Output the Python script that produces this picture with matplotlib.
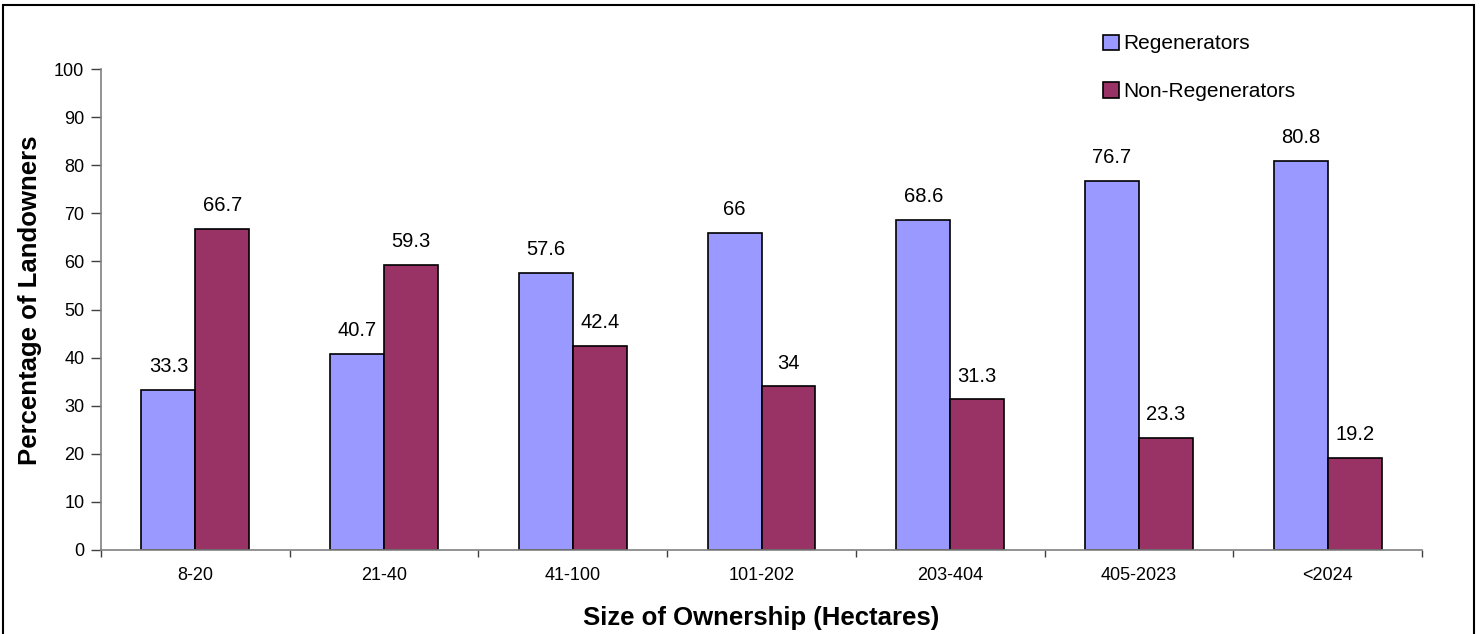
import matplotlib
matplotlib.use("Agg")
import matplotlib.pyplot as plt
import numpy as np
from matplotlib.patches import Rectangle

# Ownership size classes (hectares) and share of landowners (%)
categories = ["8-20", "21-40", "41-100", "101-202", "203-404", "405-2023", "<2024"]
regenerators = [33.3, 40.7, 57.6, 66, 68.6, 76.7, 80.8]
non_regenerators = [66.7, 59.3, 42.4, 34, 31.3, 23.3, 19.2]
series_names = ["Regenerators", "Non-Regenerators"]
y_ticks = [0, 10, 20, 30, 40, 50, 60, 70, 80, 90, 100]

plt.rcParams["font.family"] = ["Liberation Sans", "DejaVu Sans"]

fig = plt.figure(figsize=(14.81, 6.34), dpi=100)
ax = fig.add_axes([101 / 1481, 1 - 550 / 634, (1422 - 101) / 1481, (550 - 69) / 634])

# Outer chart border
fig.patches.append(Rectangle((3 / 1481, -0.05), (1474 - 3) / 1481, 1.05 - 5 / 634,
                             transform=fig.transFigure, fill=False,
                             edgecolor="black", linewidth=1.5, zorder=10))

n = len(categories)
x = np.arange(n)
width = 1 / 3.5
c_reg = "#9999FF"
c_non = "#993366"

b1 = ax.bar(x - width / 2, regenerators, width, color=c_reg, edgecolor="black",
            linewidth=1.2, label=series_names[0])
b2 = ax.bar(x + width / 2, non_regenerators, width, color=c_non, edgecolor="black",
            linewidth=1.2, label=series_names[1])

for bars, vals in ((b1, regenerators), (b2, non_regenerators)):
    for rect, v in zip(bars, vals):
        ax.annotate(f"{v:g}", (rect.get_x() + rect.get_width() / 2, v),
                    xytext=(0, 10), textcoords="offset points",
                    ha="center", va="bottom", fontsize=14.5)

ax.set_xlim(-0.5, n - 0.5)
ax.set_ylim(0, 100)
ax.set_yticks(y_ticks)
ax.tick_params(axis="y", direction="out", length=7, width=1, color="#404040",
               labelsize=13, pad=5)

# Major x ticks mark group boundaries; minor ticks carry the labels
ax.set_xticks(np.arange(-0.5, n, 1.0))
ax.set_xticklabels([])
ax.tick_params(axis="x", which="major", direction="out", length=5, width=1, color="#404040")
ax.set_xticks(x, minor=True)
ax.set_xticklabels(categories, minor=True)
ax.tick_params(axis="x", which="minor", length=0, labelsize=13, pad=12)

for side in ("top", "right"):
    ax.spines[side].set_visible(False)
for side in ("left", "bottom"):
    ax.spines[side].set_color("#808080")
    ax.spines[side].set_linewidth(1.2)

ax.set_ylabel("Percentage of Landowners", fontsize=18.5, fontweight="bold")
ax.yaxis.set_label_coords(-0.045, 0.52)
ax.set_xlabel("Size of Ownership (Hectares)", fontsize=18.5, fontweight="bold", labelpad=16)

leg = ax.legend(loc="upper left", bbox_to_anchor=(1093 / 1481, 1 - 24 / 634),
                bbox_transform=fig.transFigure, frameon=False, fontsize=15,
                handlelength=0.75, handleheight=0.75, handletextpad=0.2,
                labelspacing=1.38, borderpad=0)

fig.savefig("out.png", dpi=100)
